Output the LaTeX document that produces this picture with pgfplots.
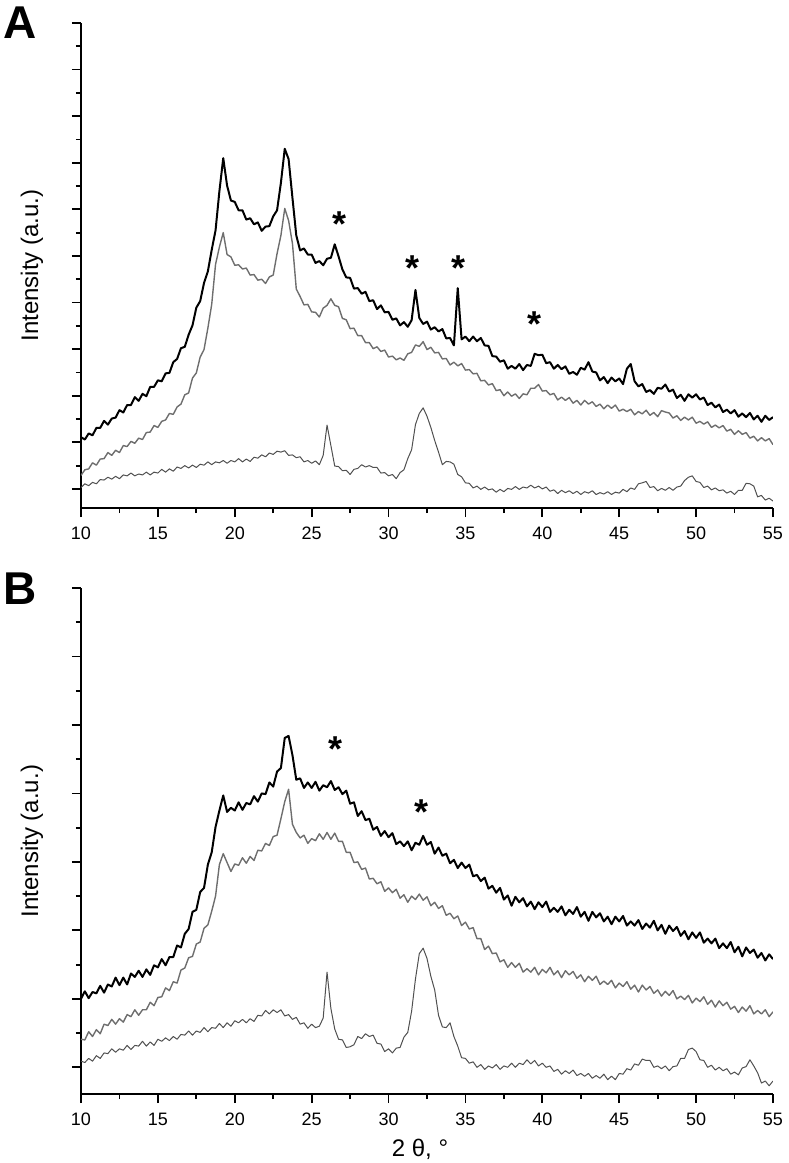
\documentclass[border=0pt]{standalone}
\usepackage{fontspec}
\setmainfont{Liberation Sans}
\usepackage{pgfplots}
\usepackage{pgfplotstable}
\pgfplotsset{compat=1.18}

\definecolor{midgray}{HTML}{6E6E6E}
\definecolor{lowgray}{HTML}{505050}

% panel A: 2theta, top (black), middle (grey), bottom (dark grey)
\pgfplotstableread{
x top mid bot
10.00 1.11 0.29 0.03
10.25 1.06 0.41 0.11
10.50 1.19 0.43 0.07
10.75 1.15 0.56 0.14
11.00 1.31 0.51 0.11
11.25 1.31 0.64 0.20
11.50 1.46 0.65 0.19
11.75 1.38 0.78 0.25
12.00 1.51 0.72 0.21
12.25 1.53 0.83 0.27
12.50 1.69 0.78 0.22
12.75 1.64 0.93 0.30
13.00 1.80 0.91 0.28
13.25 1.80 1.02 0.34
13.50 1.97 0.98 0.28
13.75 1.89 1.09 0.32
14.00 2.04 1.06 0.30
14.25 1.99 1.21 0.36
14.50 2.19 1.22 0.30
14.75 2.19 1.36 0.36
15.00 2.33 1.32 0.34
15.25 2.31 1.45 0.42
15.50 2.48 1.48 0.36
15.75 2.49 1.62 0.43
16.00 2.72 1.60 0.38
16.25 2.79 1.76 0.47
16.50 3.02 1.82 0.44
16.75 3.05 2.02 0.50
17.00 3.31 2.06 0.45
17.25 3.51 2.38 0.51
17.50 3.89 2.49 0.46
17.75 4.03 2.83 0.53
18.00 4.42 2.99 0.51
18.25 4.67 3.45 0.58
18.50 5.13 3.96 0.52
18.75 5.55 4.82 0.58
19.00 6.39 5.19 0.56
19.25 7.10 5.50 0.61
19.50 6.51 5.03 0.55
19.75 6.19 4.98 0.61
20.00 6.16 4.80 0.58
20.25 5.98 4.81 0.65
20.50 5.98 4.72 0.58
20.75 5.78 4.74 0.64
21.00 5.81 4.59 0.59
21.25 5.68 4.60 0.68
21.50 5.72 4.48 0.66
21.75 5.54 4.50 0.73
22.00 5.63 4.41 0.69
22.25 5.64 4.55 0.77
22.50 5.85 4.59 0.74
22.75 5.98 5.05 0.81
23.00 6.57 5.44 0.79
23.25 7.30 6.02 0.82
23.50 7.08 5.76 0.72
23.75 6.25 5.27 0.73
24.00 5.44 4.29 0.67
24.25 5.12 4.13 0.69
24.50 5.16 3.95 0.58
24.75 5.03 3.96 0.61
25.00 5.03 3.80 0.55
25.25 4.85 3.79 0.60
25.50 4.89 3.69 0.52
25.75 4.80 3.88 0.72
26.00 4.94 3.94 1.37
26.25 4.96 4.08 0.93
26.50 5.25 3.94 0.49
26.75 4.99 3.91 0.48
27.00 4.71 3.66 0.39
27.25 4.54 3.63 0.40
27.50 4.53 3.44 0.31
27.75 4.30 3.45 0.42
28.00 4.31 3.29 0.44
28.25 4.19 3.29 0.52
28.50 4.23 3.14 0.47
28.75 4.03 3.14 0.50
29.00 4.05 3.01 0.46
29.25 3.86 3.05 0.46
29.50 3.94 2.95 0.34
29.75 3.79 2.98 0.35
30.00 3.80 2.83 0.28
30.25 3.63 2.85 0.31
30.50 3.66 2.77 0.22
30.75 3.51 2.81 0.35
31.00 3.58 2.76 0.41
31.25 3.48 2.90 0.65
31.50 3.62 2.93 0.84
31.75 4.27 3.09 1.38
32.00 3.67 3.06 1.62
32.25 3.54 3.16 1.74
32.50 3.59 2.99 1.56
32.75 3.42 3.04 1.32
33.00 3.47 2.92 1.04
33.25 3.38 2.93 0.79
33.50 3.43 2.79 0.52
33.75 3.23 2.80 0.59
34.00 3.24 2.66 0.58
34.25 3.08 2.72 0.53
34.50 4.31 2.64 0.31
34.75 3.21 2.69 0.26
35.00 3.27 2.55 0.13
35.25 3.17 2.56 0.12
35.50 3.27 2.47 0.02
35.75 3.17 2.48 0.06
36.00 3.24 2.32 -0.01
36.25 3.08 2.33 0.04
36.50 3.07 2.23 -0.02
36.75 2.85 2.26 0.00
37.00 2.84 2.11 -0.07
37.25 2.73 2.13 -0.01
37.50 2.76 2.00 -0.06
37.75 2.58 2.08 0.01
38.00 2.64 1.99 -0.01
38.25 2.58 2.04 0.05
38.50 2.68 1.94 -0.01
38.75 2.55 2.04 0.04
39.00 2.66 2.02 0.02
39.25 2.64 2.16 0.08
39.50 2.90 2.16 0.02
39.75 2.87 2.24 0.06
40.00 2.88 2.10 0.00
40.25 2.70 2.11 0.04
40.50 2.72 2.02 -0.05
40.75 2.58 2.05 -0.02
41.00 2.66 1.91 -0.10
41.25 2.57 1.97 -0.03
41.50 2.63 1.90 -0.08
41.75 2.47 1.96 -0.04
42.00 2.51 1.84 -0.10
42.25 2.45 1.90 -0.05
42.50 2.60 1.80 -0.12
42.75 2.56 1.90 -0.06
43.00 2.72 1.82 -0.09
43.25 2.52 1.87 -0.04
43.50 2.50 1.77 -0.12
43.75 2.33 1.82 -0.08
44.00 2.40 1.72 -0.11
44.25 2.27 1.80 -0.06
44.50 2.39 1.73 -0.12
44.75 2.31 1.80 -0.07
45.00 2.37 1.67 -0.09
45.25 2.25 1.71 -0.01
45.50 2.58 1.66 -0.06
45.75 2.68 1.71 0.02
46.00 2.31 1.59 -0.01
46.25 2.20 1.66 0.11
46.50 2.25 1.61 0.13
46.75 2.08 1.69 0.16
47.00 2.12 1.58 0.03
47.25 2.04 1.64 0.05
47.50 2.17 1.55 -0.04
47.75 2.15 1.68 0.01
48.00 2.24 1.65 -0.03
48.25 2.09 1.63 0.03
48.50 2.13 1.52 -0.03
48.75 1.95 1.57 0.04
49.00 2.02 1.47 0.06
49.25 1.89 1.54 0.18
49.50 2.03 1.48 0.25
49.75 1.96 1.54 0.28
50.00 2.03 1.41 0.16
50.25 1.92 1.45 0.14
50.50 1.96 1.39 0.03
50.75 1.80 1.44 0.06
51.00 1.85 1.32 -0.02
51.25 1.75 1.37 0.02
51.50 1.81 1.31 -0.04
51.75 1.65 1.36 -0.02
52.00 1.70 1.24 -0.09
52.25 1.62 1.28 -0.05
52.50 1.69 1.17 -0.12
52.75 1.55 1.25 -0.03
53.00 1.62 1.17 -0.03
53.25 1.54 1.21 0.12
53.50 1.63 1.09 0.11
53.75 1.49 1.13 0.06
54.00 1.57 1.03 -0.17
54.25 1.44 1.10 -0.14
54.50 1.57 1.03 -0.24
54.75 1.48 1.08 -0.20
55.00 1.54 0.95 -0.26
}\xrdA

% panel B
\pgfplotstableread{
x top mid bot
10.00 1.00 0.41 0.09
10.25 1.11 0.40 0.07
10.50 1.01 0.52 0.13
10.75 1.10 0.45 0.09
11.00 1.08 0.55 0.17
11.25 1.19 0.49 0.13
11.50 1.09 0.63 0.21
11.75 1.21 0.61 0.20
12.00 1.18 0.70 0.27
12.25 1.31 0.63 0.22
12.50 1.20 0.71 0.27
12.75 1.31 0.66 0.25
13.00 1.21 0.77 0.32
13.25 1.37 0.74 0.26
13.50 1.32 0.84 0.32
13.75 1.41 0.76 0.31
14.00 1.32 0.84 0.38
14.25 1.43 0.84 0.31
14.50 1.35 0.95 0.37
14.75 1.49 0.90 0.32
15.00 1.46 1.02 0.41
15.25 1.58 1.03 0.38
15.50 1.49 1.16 0.43
15.75 1.61 1.12 0.39
16.00 1.61 1.25 0.45
16.25 1.78 1.23 0.41
16.50 1.75 1.42 0.48
16.75 1.95 1.45 0.47
17.00 2.02 1.60 0.53
17.25 2.27 1.62 0.47
17.50 2.30 1.80 0.53
17.75 2.56 1.83 0.51
18.00 2.62 2.03 0.58
18.25 2.96 2.08 0.52
18.50 3.14 2.28 0.58
18.75 3.51 2.50 0.57
19.00 3.75 2.96 0.64
19.25 3.97 3.12 0.58
19.50 3.73 2.99 0.65
19.75 3.79 2.86 0.60
20.00 3.75 2.97 0.68
20.25 3.87 2.95 0.65
20.50 3.76 3.06 0.70
20.75 3.86 2.98 0.65
21.00 3.84 3.08 0.71
21.25 3.96 3.02 0.67
21.50 3.88 3.17 0.76
21.75 4.00 3.16 0.75
22.00 3.99 3.27 0.83
22.25 4.16 3.24 0.78
22.50 4.10 3.37 0.84
22.75 4.32 3.39 0.80
23.00 4.37 3.63 0.84
23.25 4.81 3.88 0.75
23.50 4.84 4.06 0.77
23.75 4.56 3.55 0.70
24.00 4.20 3.43 0.73
24.25 4.22 3.35 0.63
24.50 4.08 3.39 0.65
24.75 4.16 3.27 0.57
25.00 4.08 3.34 0.63
25.25 4.17 3.31 0.58
25.50 4.04 3.41 0.60
25.75 4.12 3.33 0.72
26.00 4.09 3.43 1.39
26.25 4.18 3.33 0.86
26.50 4.05 3.42 0.56
26.75 4.09 3.30 0.41
27.00 3.99 3.30 0.40
27.25 4.04 3.14 0.29
27.50 3.85 3.14 0.30
27.75 3.87 2.99 0.33
28.00 3.67 3.00 0.45
28.25 3.74 2.89 0.42
28.50 3.61 2.91 0.49
28.75 3.63 2.75 0.45
29.00 3.47 2.76 0.47
29.25 3.51 2.68 0.35
29.50 3.38 2.71 0.34
29.75 3.45 2.57 0.23
30.00 3.36 2.62 0.27
30.25 3.42 2.55 0.21
30.50 3.26 2.60 0.28
30.75 3.30 2.47 0.29
31.00 3.23 2.52 0.44
31.25 3.30 2.41 0.51
31.50 3.17 2.50 0.82
31.75 3.28 2.45 1.29
32.00 3.25 2.53 1.66
32.25 3.38 2.44 1.74
32.50 3.25 2.49 1.59
32.75 3.29 2.36 1.33
33.00 3.12 2.41 1.13
33.25 3.21 2.32 0.76
33.50 3.09 2.36 0.59
33.75 3.12 2.22 0.58
34.00 2.98 2.25 0.65
34.25 3.03 2.17 0.45
34.50 2.91 2.21 0.31
34.75 2.99 2.07 0.14
35.00 2.91 2.12 0.13
35.25 2.96 2.02 0.06
35.50 2.79 2.04 0.08
35.75 2.81 1.88 0.00
36.00 2.72 1.88 0.04
36.25 2.77 1.72 -0.03
36.50 2.61 1.77 0.02
36.75 2.65 1.66 -0.01
37.00 2.55 1.67 0.04
37.25 2.62 1.54 -0.03
37.50 2.45 1.57 0.02
37.75 2.51 1.46 0.00
38.00 2.36 1.53 0.06
38.25 2.49 1.46 0.00
38.50 2.41 1.52 0.06
38.75 2.47 1.39 0.04
39.00 2.35 1.44 0.11
39.25 2.42 1.39 0.05
39.50 2.31 1.46 0.10
39.75 2.41 1.35 0.02
40.00 2.34 1.43 0.06
40.25 2.42 1.38 0.00
40.50 2.27 1.46 0.02
40.75 2.33 1.35 -0.06
41.00 2.27 1.41 -0.03
41.25 2.35 1.31 -0.10
41.50 2.22 1.41 -0.05
41.75 2.30 1.35 -0.09
42.00 2.24 1.40 -0.04
42.25 2.34 1.30 -0.12
42.50 2.20 1.35 -0.09
42.75 2.27 1.25 -0.13
43.00 2.14 1.33 -0.09
43.25 2.27 1.27 -0.16
43.50 2.19 1.33 -0.12
43.75 2.25 1.21 -0.16
44.00 2.13 1.26 -0.10
44.25 2.20 1.21 -0.18
44.50 2.09 1.27 -0.13
44.75 2.20 1.16 -0.18
45.00 2.13 1.23 -0.09
45.25 2.21 1.18 -0.10
45.50 2.07 1.25 -0.02
45.75 2.13 1.14 -0.04
46.00 2.07 1.20 0.05
46.25 2.15 1.10 0.03
46.50 2.02 1.20 0.12
46.75 2.10 1.13 0.10
47.00 2.04 1.18 0.10
47.25 2.14 1.08 0.00
47.50 2.00 1.13 0.02
47.75 2.08 1.04 -0.02
48.00 1.95 1.11 0.02
48.25 2.07 1.05 -0.05
48.50 1.99 1.12 0.01
48.75 2.05 1.00 0.02
49.00 1.92 1.04 0.13
49.25 1.99 0.99 0.13
49.50 1.87 1.05 0.26
49.75 1.97 0.94 0.28
50.00 1.89 1.01 0.23
50.25 1.97 0.96 0.11
50.50 1.82 1.03 0.10
50.75 1.88 0.92 0.00
51.00 1.81 0.98 0.03
51.25 1.88 0.88 -0.04
51.50 1.74 0.97 0.00
51.75 1.81 0.90 -0.05
52.00 1.74 0.95 -0.02
52.25 1.83 0.85 -0.10
52.50 1.68 0.89 -0.07
52.75 1.76 0.80 -0.11
53.00 1.62 0.88 -0.01
53.25 1.75 0.82 0.01
53.50 1.67 0.90 0.11
53.75 1.72 0.78 0.02
54.00 1.60 0.83 -0.08
54.25 1.67 0.78 -0.23
54.50 1.56 0.84 -0.20
54.75 1.65 0.74 -0.27
55.00 1.58 0.81 -0.20
}\xrdB

\pgfplotsset{
  xrd/.style={
    scale only axis, width=346pt,
    xmin=10, xmax=55, xtick={10,15,...,55}, minor x tick num=1,
    minor y tick num=1, yticklabels={},
    axis lines*=left,
    axis line style={line width=1pt},
    tick align=outside,
    every tick/.style={black, line width=0.9pt},
    major tick length=4.5pt, minor tick length=2.5pt,
    /pgf/number format/assume math mode=true,
    xticklabel style={font=\fontsize{9}{10}\selectfont, yshift=-1.5pt},
    ylabel={Intensity (a.u.)},
    ylabel style={at={(axis description cs:-0.0708,0.5)}, anchor=center,
      font=\fontsize{12}{14}\selectfont},
  },
  topline/.style={black, line width=1pt, line join=round},
  midline/.style={midgray, line width=0.7pt, line join=round},
  lowline/.style={lowgray, line width=0.5pt, line join=round},
}
\tikzset{
  star/.style={font=\fontsize{18}{18}\selectfont\bfseries, anchor=center, yshift=-3pt},
}

\begin{document}
\begin{tikzpicture}
\path[use as bounding box] (0,0) rectangle (394pt,-581.5pt);

\begin{axis}[xrd, at={(40.5pt,-254pt)}, anchor=south west,
  height=242.5pt, ymin=-0.41, ymax=10, ytick={0,1,...,10}]
\addplot[lowline] table[x=x, y=bot] {\xrdA};
\addplot[midline] table[x=x, y=mid] {\xrdA};
\addplot[topline] table[x=x, y=top] {\xrdA};
\node[star] at (axis cs:26.84,5.82) {*};
\node[star] at (axis cs:31.59,4.87) {*};
\node[star] at (axis cs:34.58,4.87) {*};
\node[star] at (axis cs:39.52,3.67) {*};
\end{axis}

\begin{axis}[xrd, at={(40.5pt,-547pt)}, anchor=south west,
  height=253pt, ymin=-0.39, ymax=7, ytick={0,1,...,7},
  xlabel={2 θ, °},
  xlabel style={at={(axis description cs:0.5,0)}, anchor=center,
    xshift=-3.5pt, yshift=-27.5pt, font=\fontsize{12}{14}\selectfont}]
\addplot[lowline] table[x=x, y=bot] {\xrdB};
\addplot[midline] table[x=x, y=mid] {\xrdB};
\addplot[topline] table[x=x, y=top] {\xrdB};
\node[star] at (axis cs:26.52,4.73) {*};
\node[star] at (axis cs:32.17,3.82) {*};
\end{axis}

\node[anchor=base west, font=\fontsize{23}{23}\selectfont\bfseries, inner sep=0pt] at (1.5pt,-19pt) {A};
\node[anchor=base west, font=\fontsize{23}{23}\selectfont\bfseries, inner sep=0pt] at (1.5pt,-302pt) {B};
\end{tikzpicture}
\end{document}
